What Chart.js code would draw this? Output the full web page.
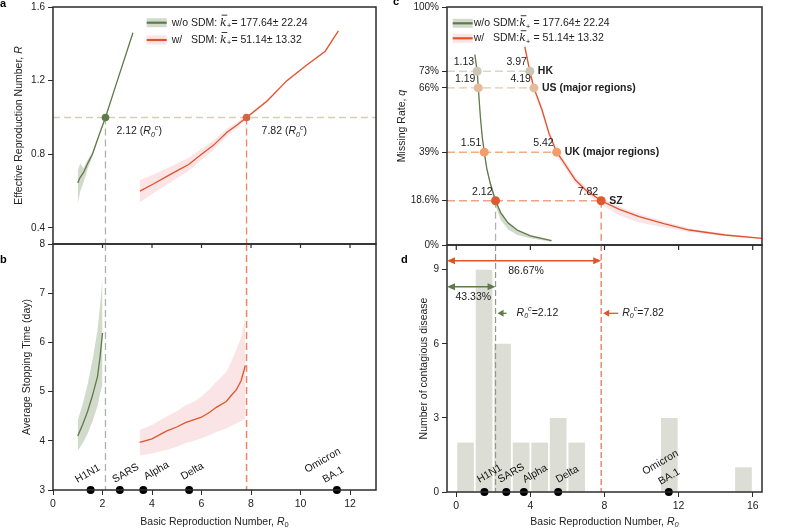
<!DOCTYPE html>
<html>
<head>
<meta charset="utf-8">
<title>Critical R0 with and without SDM</title>
<script src="https://cdn.jsdelivr.net/npm/chart.js@4.4.1/dist/chart.umd.min.js"></script>
<style>
  body { margin: 0; background: #fff; }
  #wrap { position: relative; width: 793px; height: 528px; overflow: hidden; background: #fff; }
  canvas { position: absolute; }
</style>
</head>
<body>
<div id="wrap">
  <canvas id="chartA" width="393" height="250" style="left:0px;top:0px"></canvas>
  <canvas id="chartB" width="393" height="290" style="left:0px;top:238px"></canvas>
  <canvas id="chartC" width="400" height="252" style="left:393px;top:0px"></canvas>
  <canvas id="chartD" width="400" height="289" style="left:393px;top:239px"></canvas>
</div>
<script>
// ---------- values ----------
const seriesNames = ['w/o', 'w/'];
const kMean = [177.64, 51.14];
const kSd = [22.24, 13.32];
const critR0 = [2.12, 7.82];   // R0 where R crosses 1
const critR = [1, 1];

// a: effective reproduction number R vs R0
const aNoSdmR0 = [1.0, 1.1, 1.23, 1.4, 1.59, 1.85, 2.12, 2.6, 3.23];
const aNoSdmR  = [0.645, 0.675, 0.70, 0.75, 0.80, 0.90, 1.0, 1.2, 1.46];
const aNoSdmLo = [0.53, 0.60, 0.645, 0.72, 0.785, 0.89, 0.995, 1.195, 1.455];
const aNoSdmHi = [0.71, 0.75, 0.725, 0.77, 0.81, 0.91, 1.005, 1.205, 1.465];
const aSdmR0 = [3.51, 4.07, 4.6, 5.0, 5.48, 6.0, 6.49, 7.03, 7.45, 7.82, 8.65, 9.45, 10.2, 11.0, 11.53];
const aSdmR  = [0.60, 0.64, 0.68, 0.71, 0.745, 0.80, 0.85, 0.92, 0.96, 1.0, 1.09, 1.20, 1.28, 1.36, 1.47];
const aSdmLo = [0.54, 0.59, 0.635, 0.67, 0.71, 0.77, 0.825, 0.90, 0.945, 0.99, 1.082, 1.194, 1.275, 1.355, 1.465];
const aSdmHi = [0.66, 0.69, 0.725, 0.75, 0.78, 0.83, 0.875, 0.94, 0.975, 1.01, 1.098, 1.206, 1.285, 1.365, 1.475];
const aYTicks = [0.4, 0.8, 1.2, 1.6];

// b: average stopping time (day) vs R0
const bNoSdmR0 = [1.0, 1.2, 1.4, 1.6, 1.8, 1.9, 2.0];
const bNoSdmT  = [4.1, 4.33, 4.6, 4.93, 5.31, 5.7, 6.19];
const bNoSdmLo = [3.8, 3.95, 4.15, 4.4, 4.7, 4.95, 5.15];
const bNoSdmHi = [4.42, 4.75, 5.15, 5.65, 6.25, 6.75, 7.3];
const bSdmR0 = [3.5, 4.0, 4.6, 5.0, 5.35, 5.7, 6.0, 6.33, 6.6, 7.0, 7.2, 7.41, 7.6, 7.77];
const bSdmT  = [3.97, 4.04, 4.2, 4.28, 4.37, 4.43, 4.48, 4.58, 4.68, 4.80, 4.92, 5.04, 5.22, 5.53];
const bSdmLo = [3.7, 3.74, 3.82, 3.88, 3.95, 4.0, 4.05, 4.12, 4.18, 4.25, 4.3, 4.35, 4.4, 4.45];
const bSdmHi = [4.22, 4.32, 4.5, 4.6, 4.72, 4.8, 4.9, 5.05, 5.2, 5.4, 5.6, 5.85, 6.1, 6.5];
const bYTicks = [3, 4, 5, 6, 7, 8];
const bXTicks = [0, 2, 4, 6, 8, 10, 12];

// c: missing rate q vs R0
const cNoSdmR0 = [1.0, 1.13, 1.19, 1.3, 1.4, 1.51, 1.65, 1.85, 2.12, 2.4, 2.8, 3.3, 4.0, 5.14];
const cNoSdmQ  = [0.80, 0.73, 0.66, 0.54, 0.455, 0.39, 0.32, 0.255, 0.186, 0.135, 0.092, 0.062, 0.038, 0.018];
const cNoSdmLo = [0.79, 0.72, 0.65, 0.53, 0.445, 0.38, 0.31, 0.24, 0.165, 0.105, 0.065, 0.042, 0.028, 0.014];
const cNoSdmHi = [0.81, 0.74, 0.67, 0.55, 0.465, 0.40, 0.33, 0.265, 0.195, 0.142, 0.098, 0.066, 0.042, 0.02];
const cSdmR0 = [3.70, 3.97, 4.19, 4.63, 5.0, 5.42, 5.72, 6.43, 7.0, 7.82, 8.8, 9.87, 11.2, 12.57, 14.5, 16.5];
const cSdmQ  = [0.833, 0.73, 0.66, 0.567, 0.47, 0.39, 0.357, 0.273, 0.23, 0.186, 0.15, 0.119, 0.09, 0.063, 0.042, 0.028];
const cSdmLo = [0.82, 0.715, 0.645, 0.55, 0.455, 0.375, 0.34, 0.258, 0.215, 0.17, 0.125, 0.095, 0.075, 0.055, 0.037, 0.025];
const cSdmHi = [0.845, 0.745, 0.675, 0.58, 0.485, 0.405, 0.37, 0.288, 0.245, 0.2, 0.162, 0.13, 0.1, 0.07, 0.047, 0.031];
const cYTicks = [0, 0.186, 0.39, 0.66, 0.73, 1];
const cXTicks = [0, 4, 8, 12, 16];

const regionNames = ['HK', 'US (major regions)', 'UK (major regions)', 'SZ'];
const regionQ = [0.73, 0.66, 0.39, 0.186];
const regionR0NoSdm = [1.13, 1.19, 1.51, 2.12];
const regionR0Sdm = [3.97, 4.19, 5.42, 7.82];

// d: histogram of R0 over contagious diseases
const binMid = [0.5, 1.5, 2.5, 3.5, 4.5, 5.5, 6.5, 7.5, 8.5, 9.5, 10.5, 11.5, 12.5, 13.5, 14.5, 15.5];
const binCount = [2, 9, 6, 2, 2, 3, 2, 0, 0, 0, 0, 3, 0, 0, 0, 1];
const shareBelowCrit = ['43.33%', '86.67%'];
const dYTicks = [0, 3, 6, 9];
const dXTicks = [0, 4, 8, 12, 16];

const diseaseNames = ['H1N1', 'SARS', 'Alpha', 'Delta', 'Omicron\nBA.1'];
const diseaseR0 = [1.52, 2.7, 3.65, 5.5, 11.47];

// ---------- styling ----------
const FONT = '"Liberation Sans", Arial, Helvetica, sans-serif';
const f = (size, style) => (style ? style + ' ' : '') + size + 'px ' + FONT;
const KFONT = 'italic 11px "DejaVu Serif", "Liberation Serif", serif';

const GREEN = '#5f7b49', GREEN_BAND = 'rgba(112,140,92,0.32)';
const RED = '#e0542c', RED_BAND = 'rgba(236,150,160,0.26)';
const TAN = '#dacdb5', GREEN_DASH = '#a9b5a6', RED_DASH = '#ec8468';
const REGION_COLORS = ['#cdc6b4', '#e2bc9a', '#f09f6b', '#dd5a2e'];
const REGION_LINES = ['#dcd6c9', '#eac7a6', '#f1ae86', '#f0a289'];
const BAR = '#dcded5';
const AXIS = '#2b2b2b';
const INK = '#222';

Chart.defaults.font.family = FONT;
Chart.defaults.font.size = 10;
Chart.defaults.color = INK;

// ---------- helpers ----------
const pts = (xs, ys) => xs.map((x, i) => ({ x: x, y: ys[i] }));

function band(xs, lo, hi, color) {
  return [
    { data: pts(xs, hi), fill: '+1', backgroundColor: color, borderWidth: 0, pointRadius: 0, order: 5 },
    { data: pts(xs, lo), fill: false, borderWidth: 0, pointRadius: 0, order: 5 }
  ];
}
function curve(xs, ys, color) {
  return { data: pts(xs, ys), borderColor: color, borderWidth: 1.3, pointRadius: 0, fill: false, order: 2 };
}
function dots(xs, ys, colors, r) {
  return { data: pts(xs, ys), showLine: false, pointRadius: r, pointBackgroundColor: colors,
           pointBorderWidth: 0, order: 1, clip: false };
}

// fixed axis sizes, and no automatic label padding, so the plot boxes land where the figure has them
function yAxis(min, max, ticks, width, fmt) {
  return {
    type: 'linear', min: min, max: max,
    afterFit: s => { s.width = width; s.paddingTop = 0; s.paddingBottom = 0; },
    afterBuildTicks: s => { s.ticks = ticks.map(v => ({ value: v })); },
    ticks: { padding: 3, autoSkip: false, callback: fmt, font: { size: 10 } },
    grid: { drawOnChartArea: false, drawTicks: true, tickLength: 5, color: AXIS },
    border: { display: false }
  };
}
function xAxis(min, max, ticks, height) {
  return {
    type: 'linear', min: min, max: max, offset: false,
    afterFit: s => { s.height = height; s.paddingLeft = 0; s.paddingRight = 0; },
    afterBuildTicks: s => { s.ticks = ticks.map(v => ({ value: v })); },
    ticks: { padding: 3, autoSkip: false, maxRotation: 0, callback: v => String(v), font: { size: 10.5 } },
    grid: { offset: false, drawOnChartArea: false, drawTicks: true, tickLength: 5, color: AXIS },
    border: { display: false }
  };
}
const hiddenX = (min, max) => ({ type: 'linear', min: min, max: max, display: false, offset: false });

function base(pad, scales) {
  return {
    responsive: false, animation: false, devicePixelRatio: 1, events: [],
    layout: { padding: pad }, scales: scales,
    plugins: { legend: { display: false }, tooltip: { enabled: false } },
    elements: { line: { tension: 0 } }
  };
}

const X = (c, v) => c.scales.x.getPixelForValue(v);
const Y = (c, v) => c.scales.y.getPixelForValue(v);

function seg(ctx, x1, y1, x2, y2, color, w, dash) {
  ctx.save();
  ctx.strokeStyle = color; ctx.lineWidth = w; ctx.setLineDash(dash || []);
  ctx.beginPath(); ctx.moveTo(x1, y1); ctx.lineTo(x2, y2); ctx.stroke();
  ctx.restore();
}
function head(ctx, x, y, dir, color, len) {  // tip at x, dir -1 points left
  const l = len || 8;
  ctx.save(); ctx.fillStyle = color; ctx.beginPath();
  ctx.moveTo(x, y); ctx.lineTo(x - dir * l, y - 3.5); ctx.lineTo(x - dir * l, y + 3.5);
  ctx.closePath(); ctx.fill(); ctx.restore();
}
function dblArrow(ctx, x1, x2, y, color) {
  seg(ctx, x1 + 4, y, x2 - 4, y, color, 1.6);
  head(ctx, x1, y, -1, color);
  head(ctx, x2, y, 1, color);
}

// draws runs of text with their own fonts / offsets on one line
function rich(ctx, parts, x, y, align) {
  let w = 0;
  parts.forEach(p => { ctx.font = p.f; w += ctx.measureText(p.t).width; });
  let cx = align === 'center' ? x - w / 2 : (align === 'right' ? x - w : x);
  ctx.textAlign = 'left';
  parts.forEach(p => {
    ctx.font = p.f;
    const pw = ctx.measureText(p.t).width;
    ctx.fillText(p.t, cx, y + (p.dy || 0));
    if (p.bar !== undefined) ctx.fillRect(cx + 1.5, y + p.bar, pw - 1, 0.9);
    cx += pw;
  });
  return w;
}
const r0c = size => [
  { t: 'R', f: f(size, 'italic') },
  { t: '0', f: f(size * 0.68, 'italic'), dy: 3 },
  { t: 'c', f: f(size * 0.68, 'italic'), dy: -4 }
];

function frame(c) {
  const a = c.chartArea, ctx = c.ctx;
  ctx.save(); ctx.strokeStyle = AXIS; ctx.lineWidth = 1.5;
  ctx.strokeRect(a.left, a.top, a.right - a.left, a.bottom - a.top);
  ctx.restore();
}
function yTitle(ctx, x, y, parts) {
  ctx.save(); ctx.fillStyle = INK; ctx.textBaseline = 'middle';
  ctx.translate(x, y); ctx.rotate(-Math.PI / 2);
  rich(ctx, parts, 0, 0, 'center');
  ctx.restore();
}
function xTitle(ctx, x, y, italicZero) {
  ctx.save(); ctx.fillStyle = INK; ctx.textBaseline = 'middle';
  rich(ctx, [
    { t: 'Basic Reproduction Number, ', f: f(10.5) },
    { t: 'R', f: f(10.5, 'italic') },
    { t: '0', f: f(7.5, italicZero ? 'italic' : ''), dy: 3 }
  ], x, y, 'center');
  ctx.restore();
}
function letter(ctx, t, x, y) {
  ctx.save(); ctx.fillStyle = '#000'; ctx.font = f(11, 'bold');
  ctx.textAlign = 'left'; ctx.textBaseline = 'alphabetic';
  ctx.fillText(t, x, y); ctx.restore();
}
function legend(ctx, x, y0, gap, textGap, tight) {
  const cols = [[GREEN, GREEN_BAND], [RED, RED_BAND]];
  ctx.save();
  seriesNames.forEach((name, i) => {
    const y = y0 + i * gap;
    ctx.fillStyle = cols[i][1]; ctx.fillRect(x, y - 4.5, 20, 9);
    seg(ctx, x, y, x + 20, y, cols[i][0], 2.2);
    ctx.fillStyle = INK; ctx.textBaseline = 'middle';
    ctx.font = f(10.5); ctx.textAlign = 'left';
    ctx.fillText(name, x + textGap, y);
    const sx = x + textGap + ctx.measureText('w/o ').width;
    rich(ctx, [
      { t: tight ? 'SDM:' : 'SDM: ', f: f(10.5) },
      { t: 'k', f: KFONT, bar: -8 },
      { t: '+', f: f(8), dy: 3 },
      { t: (tight ? ' = ' : '= ') + kMean[i].toFixed(2) + '\u00b1 ' + kSd[i].toFixed(2), f: f(10.5) }
    ], sx, y, 'left');
  });
  ctx.restore();
}
function diseaseLabels(c, offs) {
  const ctx = c.ctx, yb = c.chartArea.bottom;
  ctx.save(); ctx.fillStyle = '#111'; ctx.font = f(10.5);
  ctx.textAlign = 'left'; ctx.textBaseline = 'alphabetic';
  diseaseNames.forEach((name, i) => {
    name.split('\n').forEach((line, j) => {
      const o = offs[i][j];
      ctx.save();
      ctx.translate(X(c, diseaseR0[i]) + o[0], yb + o[1]);
      ctx.rotate(-Math.PI / 6);
      ctx.fillText(line, 0, 0);
      ctx.restore();
    });
  });
  ctx.restore();
}

// ---------- panel a ----------
const panelA = {
  id: 'panelA',
  beforeDatasetsDraw(c) {
    const ctx = c.ctx, a = c.chartArea, y1 = Y(c, 1);
    seg(ctx, a.left, y1, a.right, y1, TAN, 1.3, [7, 4]);
    seg(ctx, X(c, critR0[0]), y1, X(c, critR0[0]), a.bottom, GREEN_DASH, 1.3, [7, 4]);
    seg(ctx, X(c, critR0[1]), y1, X(c, critR0[1]), a.bottom, RED_DASH, 1.3, [7, 4]);
  },
  afterDatasetsDraw(c) {
    const ctx = c.ctx, a = c.chartArea;
    frame(c);
    ctx.save(); ctx.fillStyle = INK; ctx.textBaseline = 'alphabetic';
    const shift = [11, 15];
    critR0.forEach((v, i) => {
      rich(ctx, [{ t: v.toFixed(2) + ' (', f: f(10.5) }].concat(r0c(10.5), [{ t: ')', f: f(10.5) }]),
           X(c, v) + shift[i], Y(c, 1) + 17, 'left');
    });
    ctx.restore();
    legend(ctx, 146.7, 22.7, 17.3, 25, false);
    yTitle(ctx, 19, (a.top + a.bottom) / 2, [
      { t: 'Effective Reproduction Number, ', f: f(10.5) }, { t: 'R', f: f(10.5, 'italic') }]);
    letter(ctx, 'a', 0, 7);
  }
};

new Chart(document.getElementById('chartA'), {
  type: 'line',
  data: { datasets: [
    ...band(aNoSdmR0, aNoSdmLo, aNoSdmHi, GREEN_BAND),
    ...band(aSdmR0, aSdmLo, aSdmHi, RED_BAND),
    curve(aNoSdmR0, aNoSdmR, GREEN),
    curve(aSdmR0, aSdmR, RED),
    dots(critR0, critR, [GREEN, '#d8643f'], 3.8)
  ] },
  options: base({ top: 7, right: 17, bottom: 6, left: 0 }, {
    x: hiddenX(0, 13.05),
    y: yAxis(0.313, 1.6, aYTicks, 53, v => v.toFixed(1))
  }),
  plugins: [panelA]
});

// ---------- panel b ----------
const panelB = {
  id: 'panelB',
  beforeDatasetsDraw(c) {
    const ctx = c.ctx, a = c.chartArea;
    seg(ctx, X(c, critR0[0]), a.top, X(c, critR0[0]), a.bottom, GREEN_DASH, 1.3, [7, 4]);
    seg(ctx, X(c, critR0[1]), a.top, X(c, critR0[1]), a.bottom, RED_DASH, 1.5, [7, 4]);
  },
  afterDatasetsDraw(c) {
    const ctx = c.ctx, a = c.chartArea;
    frame(c);
    bXTicks.slice(1).forEach(v => seg(ctx, X(c, v), a.top, X(c, v), a.top + 4, AXIS, 1.2));
    diseaseLabels(c, [[[-13, -7]], [[-5, -7]], [[3, -10]], [[-6, -10]], [[-30, -17], [-12, -7]]]);
    xTitle(ctx, (a.left + a.right) / 2, 283.7, false);
    yTitle(ctx, 27.5, (a.top + a.bottom) / 2, [{ t: 'Average Stopping Time (day)', f: f(10.5) }]);
    letter(ctx, 'b', 0, 25);
  }
};

new Chart(document.getElementById('chartB'), {
  type: 'line',
  data: { datasets: [
    ...band(bNoSdmR0, bNoSdmLo, bNoSdmHi, GREEN_BAND),
    ...band(bSdmR0, bSdmLo, bSdmHi, RED_BAND),
    curve(bNoSdmR0, bNoSdmT, GREEN),
    curve(bSdmR0, bSdmT, RED),
    dots(diseaseR0, diseaseR0.map(() => bYTicks[0]), '#000', 4)
  ] },
  options: base({ top: 6, right: 17, bottom: 0, left: 0 }, {
    x: xAxis(0, 13.05, bXTicks, 38),
    y: yAxis(3, 8, bYTicks, 53, v => String(v))
  }),
  plugins: [panelB]
});

// ---------- panel c ----------
const panelC = {
  id: 'panelC',
  beforeDatasetsDraw(c) {
    const ctx = c.ctx, a = c.chartArea;
    regionQ.forEach((q, i) => {
      seg(ctx, a.left, Y(c, q), X(c, regionR0Sdm[i]), Y(c, q), REGION_LINES[i], 1.4, [8, 4]);
    });
    const ySz = Y(c, regionQ[3]);
    seg(ctx, X(c, critR0[0]), ySz, X(c, critR0[0]), a.bottom, GREEN_DASH, 1.3, [7, 4]);
    seg(ctx, X(c, critR0[1]), ySz, X(c, critR0[1]), a.bottom, RED_DASH, 1.3, [7, 4]);
  },
  afterDatasetsDraw(c) {
    const ctx = c.ctx, a = c.chartArea;
    frame(c);
    cXTicks.forEach(v => seg(ctx, X(c, v), a.bottom, X(c, v), a.bottom + 5, AXIS, 1.2));
    ctx.save(); ctx.fillStyle = INK; ctx.textBaseline = 'alphabetic';
    regionQ.forEach((q, i) => {
      const y = Y(c, q);
      ctx.font = f(10.5); ctx.textAlign = 'right';
      ctx.fillText(regionR0NoSdm[i].toFixed(2), X(c, regionR0NoSdm[i]) - 3, y - 6);
      ctx.fillText(regionR0Sdm[i].toFixed(2), X(c, regionR0Sdm[i]) - 3, y - 6);
      ctx.font = f(10.5, 'bold'); ctx.textAlign = 'left'; ctx.textBaseline = 'middle';
      ctx.fillText(regionNames[i], X(c, regionR0Sdm[i]) + 8, y);
      ctx.textBaseline = 'alphabetic';
    });
    ctx.restore();
    legend(ctx, 59.7, 23.3, 15, 21, true);
    yTitle(ctx, 9, (a.top + a.bottom) / 2, [
      { t: 'Missing Rate, ', f: f(10.5) }, { t: 'q', f: f(10.5, 'italic') }]);
    letter(ctx, 'c', 0, 5);
  }
};

new Chart(document.getElementById('chartC'), {
  type: 'line',
  data: { datasets: [
    ...band(cNoSdmR0, cNoSdmLo, cNoSdmHi, GREEN_BAND),
    ...band(cSdmR0, cSdmLo, cSdmHi, RED_BAND),
    curve(cNoSdmR0, cNoSdmQ, GREEN),
    curve(cSdmR0, cSdmQ, RED),
    dots(regionR0NoSdm, regionQ, REGION_COLORS, 4.5),
    dots(regionR0Sdm, regionQ, REGION_COLORS, 4.5)
  ] },
  options: base({ top: 7, right: 31, bottom: 7, left: 0 }, {
    x: hiddenX(-0.5, 16.5),
    y: yAxis(0, 1, cYTicks, 54, v => +(v * 100).toFixed(1) + '%')
  }),
  plugins: [panelC]
});

// ---------- panel d ----------
const panelD = {
  id: 'panelD',
  afterDatasetsDraw(c) {
    const ctx = c.ctx, a = c.chartArea;
    seg(ctx, X(c, critR0[0]), a.top, X(c, critR0[0]), a.bottom, '#8e9b88', 1.2, [6, 3]);
    seg(ctx, X(c, critR0[1]), a.top, X(c, critR0[1]), a.bottom, '#e56a48', 1.2, [6, 3]);
    frame(c);
    const cols = [GREEN, RED];
    dblArrow(ctx, a.left, X(c, critR0[1]), a.top + 15.7, RED);
    dblArrow(ctx, a.left, X(c, critR0[0]), a.top + 41.7, GREEN);
    ctx.save(); ctx.fillStyle = INK; ctx.font = f(10.5); ctx.textAlign = 'center'; ctx.textBaseline = 'middle';
    ctx.fillText(shareBelowCrit[1], (a.left + X(c, critR0[1])) / 2 + 2, a.top + 26);
    ctx.fillText(shareBelowCrit[0], (a.left + X(c, critR0[0])) / 2 + 2, a.top + 52.5);
    const tail = [11, 17];
    critR0.forEach((v, i) => {
      const x = X(c, v), y = a.top + 68.3;
      seg(ctx, x + 5, y, x + tail[i], y, cols[i], 1.3);
      head(ctx, x + 2, y, -1, cols[i], 6);
      ctx.fillStyle = INK;
      rich(ctx, r0c(10.5).concat([{ t: '=' + v.toFixed(2), f: f(10.5) }]), x + 21, y, 'left');
    });
    ctx.restore();
    diseaseLabels(c, [[[-5, -9]], [[-6, -9]], [[1, -9]], [[0, -9]], [[-24, -17], [-8, -7]]]);
    xTitle(ctx, (a.left + a.right) / 2, 282.7, true);
    yTitle(ctx, 31, (a.top + a.bottom) / 2, [{ t: 'Number of contagious disease', f: f(10.5) }]);
    letter(ctx, 'd', 8, 24);
  }
};

new Chart(document.getElementById('chartD'), {
  type: 'bar',
  data: { datasets: [
    { type: 'bar', data: pts(binMid, binCount), backgroundColor: BAR, borderWidth: 0,
      barPercentage: 0.9, categoryPercentage: 1, order: 3 },
    Object.assign({ type: 'line' }, dots(diseaseR0, diseaseR0.map(() => dYTicks[0]), '#000', 4))
  ] },
  options: base({ top: 6, right: 31, bottom: 0, left: 0 }, {
    x: xAxis(-0.5, 16.5, dXTicks, 36),
    y: yAxis(0, 10, dYTicks, 54, v => String(v))
  }),
  plugins: [panelD]
});
</script>
</body>
</html>
